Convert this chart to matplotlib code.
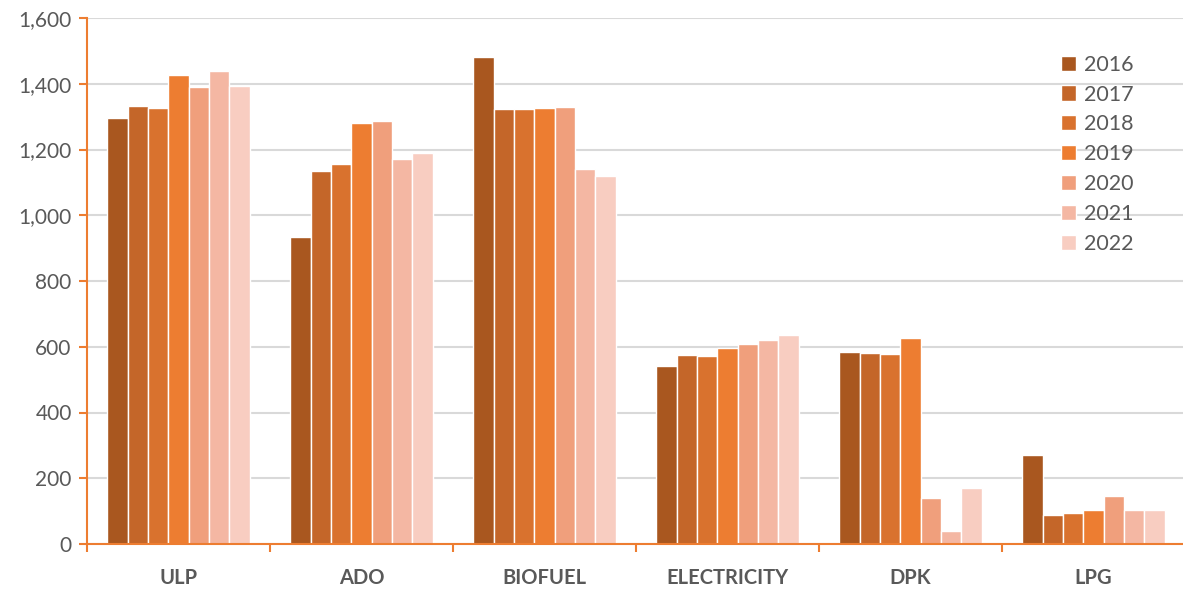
import numpy as np
import matplotlib.pyplot as plt

categories = ['ULP', 'ADO', 'BIOFUEL', 'ELECTRICITY', 'DPK', 'LPG']
years = ['2016', '2017', '2018', '2019', '2020', '2021', '2022']

# one list per year, in category order
v2016 = [1295, 934, 1482, 541, 585, 272]
v2017 = [1331, 1135, 1322, 575, 581, 87]
v2018 = [1326, 1156, 1322, 572, 577, 95]
v2019 = [1427, 1281, 1326, 596, 628, 103]
v2020 = [1390, 1288, 1329, 608, 139, 145]
v2021 = [1440, 1171, 1141, 620, 40, 103]
v2022 = [1393, 1189, 1119, 636, 171, 103]
values = [v2016, v2017, v2018, v2019, v2020, v2021, v2022]

colors = ['#A9571F', '#C46629', '#D9722E', '#ED7D31', '#F09F7C', '#F4B7A3', '#F8CDC1']
orange = '#ED7D31'
grey = '#595959'

plt.rcParams['font.family'] = ['Lato', 'DejaVu Sans']

fig = plt.figure(figsize=(11.83, 5.89), dpi=100)
ax = fig.add_axes([87 / 1183, 45 / 589, 1098 / 1183, 526 / 589])

x = np.arange(len(categories))
w = 0.78 / len(years)
for i, (yr, vals) in enumerate(zip(years, values)):
    off = (i - (len(years) - 1) / 2) * w
    ax.bar(x + off, vals, width=w, color=colors[i], edgecolor='white',
           linewidth=1.0, label=yr, zorder=2)

ax.set_xlim(-0.5, len(categories) - 0.5)
ax.set_ylim(0, 1600)
ax.set_yticks(np.arange(0, 1601, 200))
ax.yaxis.set_major_formatter(plt.FuncFormatter(lambda v, p: f'{v:,.0f}'))
ax.grid(axis='y', color='#D9D9D9', linewidth=1.5, zorder=0)
ax.set_axisbelow(True)

# category names centred, tick marks between categories
ax.set_xticks(np.arange(-0.5, len(categories), 1.0))
ax.set_xticklabels([])
ax.set_xticks(x, minor=True)
ax.set_xticklabels(categories, minor=True, fontsize=14.5, fontweight='bold', color=grey)
ax.tick_params(axis='x', which='minor', length=0, pad=17)
ax.tick_params(axis='x', which='major', length=6, width=1.5, color=orange)
ax.tick_params(axis='y', length=6, width=1.5, color=orange, labelsize=15,
               labelcolor=grey, pad=5)

for s in ['top', 'right']:
    ax.spines[s].set_visible(False)
for s in ['left', 'bottom']:
    ax.spines[s].set_color(orange)
    ax.spines[s].set_linewidth(1.5)
    ax.spines[s].set_zorder(3)

ax.legend(loc='upper left', bbox_to_anchor=(1052 / 1183, 1 - 46 / 589),
          bbox_transform=fig.transFigure, frameon=False, fontsize=15.5,
          labelcolor=grey, handlelength=0.7, handleheight=0.7,
          handletextpad=0.4, labelspacing=0.46, borderaxespad=0)

fig.savefig('out.png', dpi=100)
